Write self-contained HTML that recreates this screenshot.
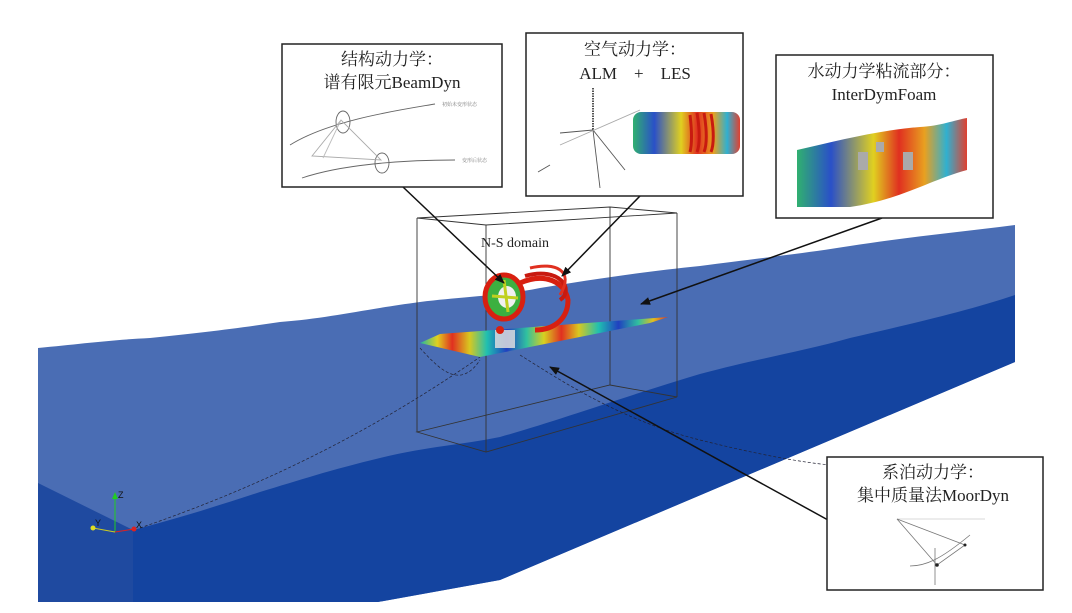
<!DOCTYPE html>
<html><head><meta charset="utf-8">
<style>
html,body{margin:0;padding:0;background:#fff;}
body{width:1072px;height:613px;overflow:hidden;position:relative;font-family:"Liberation Serif","Noto Serif CJK SC",serif;}
svg{position:absolute;left:0;top:0;}
.t{font-family:"Liberation Serif","Noto Serif CJK SC",serif;fill:#222;text-anchor:middle;}
.s{font-family:"Liberation Serif","Noto Serif CJK SC",serif;fill:#777;font-size:5px;}
</style></head><body>
<svg width="1072" height="613" viewBox="0 0 1072 613">
<defs>
<linearGradient id="rb" x1="420" y1="0" x2="668" y2="0" gradientUnits="userSpaceOnUse">
<stop offset="0" stop-color="#1fb8a0"/><stop offset="0.07" stop-color="#e0d020"/><stop offset="0.13" stop-color="#e03020"/><stop offset="0.2" stop-color="#d8c820"/><stop offset="0.27" stop-color="#20c0b0"/><stop offset="0.35" stop-color="#2040c0"/><stop offset="0.43" stop-color="#30c0a0"/><stop offset="0.5" stop-color="#d8d020"/><stop offset="0.57" stop-color="#e03020"/><stop offset="0.64" stop-color="#d8c820"/><stop offset="0.72" stop-color="#20c0b0"/><stop offset="0.8" stop-color="#2040c0"/><stop offset="0.88" stop-color="#30c0a0"/><stop offset="0.94" stop-color="#e0c020"/><stop offset="1" stop-color="#e03020"/>
</linearGradient>
<linearGradient id="rb2" x1="0" y1="0" x2="1" y2="0">
<stop offset="0" stop-color="#30b070"/><stop offset="0.2" stop-color="#2a50c8"/><stop offset="0.45" stop-color="#e0d020"/><stop offset="0.6" stop-color="#e03020"/><stop offset="0.75" stop-color="#e8a020"/><stop offset="0.88" stop-color="#30b0d0"/><stop offset="1" stop-color="#e04030"/>
</linearGradient>
<marker id="ah" markerWidth="10" markerHeight="8" refX="9" refY="4" orient="auto" markerUnits="userSpaceOnUse"><path d="M0,0 L10,4 L0,8 Z" fill="#111"/></marker>
</defs>

<path d="M38,348 C80,344 110,340 150,338 C200,333 240,328 280,322 C330,318 360,310 420,302 C470,296 500,296 540,288 C590,280 640,272 700,266 C760,258 800,254 850,246 C900,238 960,232 1015,225 L1015,362 L500,580 L378,602 L38,602 Z" fill="#4a6db4"/>
<path d="M38,483 L133,530 L133,602 L38,602 Z" fill="#1f4aa0"/>
<path d="M133,530 C180,518 220,505 260,492 C300,480 330,470 380,458 C430,446 460,445 500,437 C560,420 620,398 700,374 C760,358 800,352 850,338 C920,322 970,310 1015,295 L1015,362 L500,580 L378,602 L133,602 Z" fill="#1444a0"/>

<g fill="none" stroke="#333" stroke-width="0.9">
<path d="M417,218 L610,207 L677,213 L486,225 Z"/>
<line x1="417" y1="218" x2="417" y2="432"/>
<line x1="486" y1="225" x2="486" y2="452"/>
<line x1="610" y1="207" x2="610" y2="385"/>
<line x1="677" y1="213" x2="677" y2="397"/>
<path d="M417,432 L486,452 L677,397 L610,385 Z"/>
</g>
<text x="515" y="247" class="t" style="font-size:14px">N-S domain</text>

<g fill="none" stroke="#223" stroke-width="0.7" stroke-dasharray="3,2">
<path d="M140,528 C250,490 360,440 480,357"/>
<path d="M420,348 C440,370 460,390 480,360"/>
<path d="M520,355 C560,380 620,420 700,440 C760,455 800,462 830,465"/>
</g>

<path d="M420,343 L440,334 L668,317 L650,323 L480,357 Z" fill="url(#rb)"/>
<rect x="495" y="330" width="20" height="18" fill="#ddd" opacity="0.85"/>

<g>
<path d="M520,283 C545,272 565,282 568,300 C568,318 555,330 535,330" fill="none" stroke="#d82010" stroke-width="5"/>
<path d="M525,276 C560,266 575,290 560,300" fill="none" stroke="#c81a10" stroke-width="4"/>
<path d="M530,268 C555,262 575,270 560,295" fill="none" stroke="#e03020" stroke-width="3"/>
<ellipse cx="504" cy="297" rx="19" ry="22" fill="#3cb040" stroke="#d82010" stroke-width="5"/>
<ellipse cx="507" cy="297" rx="9" ry="11" fill="#f0f0f0"/>
<path d="M504,280 L508,312 M492,296 L518,298" stroke="#c0d020" stroke-width="3"/>
<circle cx="500" cy="330" r="4" fill="#d82010"/>
</g>

<g stroke="#111" stroke-width="1.5" fill="none">
<line x1="403" y1="187" x2="504" y2="283" marker-end="url(#ah)"/>
<line x1="640" y1="196" x2="562" y2="276" marker-end="url(#ah)"/>
<line x1="882" y1="218" x2="641" y2="304" marker-end="url(#ah)"/>
<line x1="828" y1="520" x2="550" y2="367" marker-end="url(#ah)"/>
</g>

<g>
<line x1="115" y1="532" x2="115" y2="496" stroke="#2c2" stroke-width="1"/>
<polygon points="112,499 115,492 118,499" fill="#2c2"/>
<line x1="115" y1="532" x2="93" y2="528" stroke="#cc2" stroke-width="1"/>
<circle cx="93" cy="528" r="2.5" fill="#dd2"/>
<line x1="115" y1="532" x2="134" y2="529" stroke="#d22" stroke-width="1"/>
<circle cx="134" cy="529" r="2.5" fill="#d22"/>
<text x="118" y="498" style="font:9px 'Liberation Sans',sans-serif" fill="#111">Z</text>
<text x="95" y="526" style="font:9px 'Liberation Sans',sans-serif" fill="#111">Y</text>
<text x="136" y="528" style="font:9px 'Liberation Sans',sans-serif" fill="#111">X</text>
</g>

<rect x="282" y="44" width="220" height="143" fill="#fff" stroke="#222" stroke-width="1.5"/>
<text x="392" y="65" class="t" style="font-size:17px">结构动力学：</text>
<text x="392" y="88" class="t" style="font-size:17px">谱有限元BeamDyn</text>
<g fill="none" stroke="#666" stroke-width="0.9">
<path d="M290,145 C330,120 400,110 435,104"/>
<path d="M302,178 C340,165 400,160 455,160"/>
<ellipse cx="343" cy="122" rx="7" ry="11"/>
<ellipse cx="382" cy="163" rx="7" ry="10"/>
<path d="M312,156 L341,120 L381,160 Z" stroke="#aaa"/>
<line x1="341" y1="120" x2="323" y2="158" stroke="#bbb"/>
</g>
<text x="442" y="106" class="s">初始未变形状态</text>
<text x="462" y="162" class="s">变形后状态</text>

<rect x="526" y="33" width="217" height="163" fill="#fff" stroke="#222" stroke-width="1.5"/>
<text x="635" y="55" class="t" style="font-size:17px">空气动力学：</text>
<text x="635" y="79" class="t" style="font-size:17px">ALM &#160;&#160; + &#160;&#160; LES</text>
<g fill="none" stroke="#555" stroke-width="0.9">
<line x1="593" y1="88" x2="593" y2="130" stroke-dasharray="1.5,1" stroke-width="2"/>
<line x1="593" y1="130" x2="600" y2="188"/>
<line x1="593" y1="130" x2="625" y2="170"/>
<line x1="593" y1="130" x2="560" y2="133"/>
<line x1="560" y1="145" x2="640" y2="110" stroke="#aaa"/>
<line x1="550" y1="165" x2="538" y2="172"/>
</g>
<rect x="633" y="112" width="107" height="42" fill="url(#rb2)" rx="8"/>
<g stroke="#c81a10" stroke-width="3" fill="none"><path d="M690,115 C692,130 692,145 690,152"/><path d="M697,113 C700,130 700,145 697,152"/><path d="M704,113 C707,130 707,145 704,152"/><path d="M711,114 C714,130 714,145 711,152"/></g>

<rect x="776" y="55" width="217" height="163" fill="#fff" stroke="#222" stroke-width="1.5"/>
<text x="884" y="77" class="t" style="font-size:17px">水动力学粘流部分：</text>
<text x="884" y="100" class="t" style="font-size:17px">InterDymFoam</text>
<path d="M797,150 C840,140 880,130 920,127 C940,126 955,120 967,118 L967,170 C930,180 900,200 850,207 L797,207 Z" fill="url(#rb2)"/>
<g fill="#aaa"><rect x="858" y="152" width="10" height="18"/><rect x="903" y="152" width="10" height="18"/><rect x="876" y="142" width="8" height="10"/></g>

<rect x="827" y="457" width="216" height="133" fill="#fff" stroke="#222" stroke-width="1.5"/>
<text x="933" y="478" class="t" style="font-size:17px">系泊动力学：</text>
<text x="933" y="501" class="t" style="font-size:17px">集中质量法MoorDyn</text>
<g fill="none" stroke="#777" stroke-width="0.8">
<line x1="897" y1="519" x2="985" y2="519" stroke="#ccc"/>
<path d="M897,519 L965,545 L937,565 Z"/>
<path d="M910,566 C925,566 940,560 970,535"/>
<line x1="935" y1="548" x2="935" y2="585"/>
</g>
<circle cx="937" cy="565" r="1.8" fill="#222"/><circle cx="965" cy="545" r="1.5" fill="#222"/>
</svg>
</body></html>
